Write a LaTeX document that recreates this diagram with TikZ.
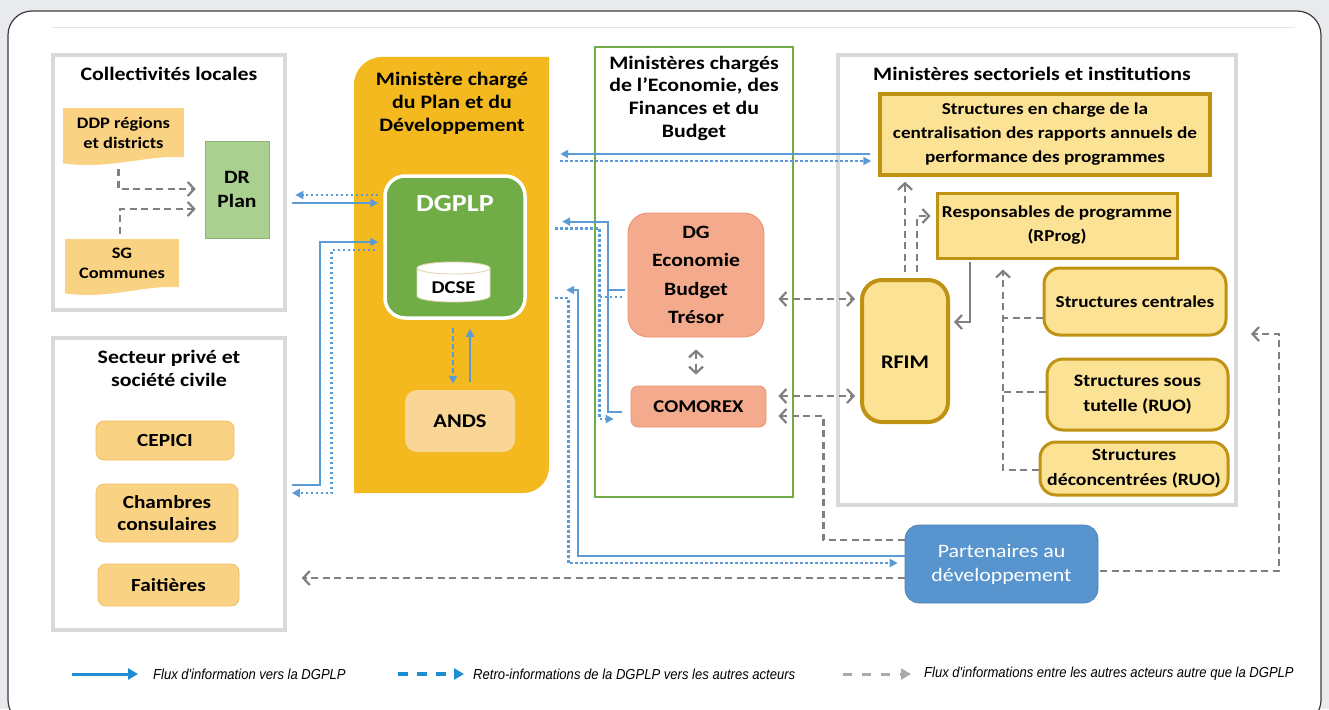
\documentclass[tikz,border=0pt]{standalone}
\usepackage{fontspec}
\setmainfont{Carlito}[FakeStretch=1.15]
\newfontfamily\legfont{Liberation Sans}[FakeStretch=0.9]
\usetikzlibrary{arrows.meta,calc}

\definecolor{bgray}{RGB}{232,234,237}
\definecolor{cardedge}{RGB}{60,60,60}
\definecolor{grpgray}{RGB}{217,217,217}
\definecolor{planyel}{RGB}{243,185,30}
\definecolor{dgreen}{RGB}{112,173,71}
\definecolor{drgreen}{RGB}{169,208,142}
\definecolor{orfill}{RGB}{250,210,132}
\definecolor{oredge}{RGB}{244,190,95}
\definecolor{andsfill}{RGB}{249,214,150}
\definecolor{salfill}{RGB}{243,170,141}
\definecolor{saledge}{RGB}{236,145,110}
\definecolor{yelfill}{RGB}{251,226,148}
\definecolor{goldedge}{RGB}{192,146,20}
\definecolor{partblue}{RGB}{88,149,206}
\definecolor{lblue}{RGB}{91,155,213}
\definecolor{dgray}{RGB}{128,128,128}
\definecolor{legblue}{RGB}{30,140,210}
\definecolor{leggray}{RGB}{170,170,170}
\definecolor{cyledge}{RGB}{225,215,180}

\newcommand\myfs[2]{\fontsize{#1}{#2}\selectfont}

\begin{document}
\begin{tikzpicture}[x=1pt,y=-1pt,
  grpbox/.style={draw=grpgray, line width=3.5pt, fill=white, inner sep=0},
  ttl/.style={font=\myfs{19}{23}\bfseries, align=center, inner sep=0},
  docbox/.style={fill=orfill, inner sep=0, align=center, font=\myfs{16}{20}\bfseries},
  orbox/.style={fill=orfill, draw=oredge, line width=0.8pt, rounded corners=8, inner sep=0, align=center, font=\myfs{18.5}{22}\bfseries},
  salbox/.style={fill=salfill, draw=saledge, line width=0.8pt, inner sep=0, align=center, font=\myfs{18.8}{28.3}\bfseries},
  yelbox/.style={fill=yelfill, draw=goldedge, line width=3pt, inner sep=0, align=center, font=\myfs{16.7}{24}\bfseries},
  flowline/.style={draw=lblue, line width=1.8pt},
  flow/.style={flowline, -{Triangle[length=8pt,width=8pt]}},
  retroline/.style={draw=lblue, line width=2.6pt, dash pattern=on 2.6pt off 2.4pt},
  retro/.style={retroline, -{Triangle[length=8pt,width=8pt]}},
  retrodash/.style={draw=lblue, line width=2.2pt, dash pattern=on 5pt off 3pt, -{Triangle[length=8pt,width=8pt]}},
  otherline/.style={draw=dgray, line width=2.2pt, dash pattern=on 7pt off 4.5pt},
  barb/.tip={Straight Barb[length=6.5pt,width=14pt]},
  other/.style={otherline, -barb},
  otherboth/.style={otherline, barb-barb},
  othersolid/.style={draw=dgray, line width=2.2pt, -barb},
  legtxt/.style={font=\legfont\itshape\myfs{14.5}{16}, inner sep=0, anchor=west}
]
\useasboundingbox (0,0) rectangle (1329,709);
\clip (0,0) rectangle (1329,709);

% page and card
\fill[bgray] (0,0) rectangle (1329,709);
\draw[fill=white, draw=cardedge, line width=1.2pt, rounded corners=24] (8,11) rectangle (1321,724);
\draw[grpgray!70, line width=1pt] (53,28) -- (1295,28);

% ---------- group frames ----------
\node[grpbox, minimum width=232, minimum height=255] (colbox) at (169,182.5) {};
\node[ttl] (colt) at (169,74) {Collectivités locales};
\node[grpbox, minimum width=232, minimum height=292] (spbox) at (169,484) {};
\node[ttl] (spt) at (169,368.5) {Secteur privé et\\société civile};

% Ministère du Plan: rounded top-left and bottom-right corners
\fill[planyel] (354,493) -- (354,85) .. controls (354,69.5) and (366.5,57) .. (382,57)
  -- (549,57) -- (549,467) .. controls (549,481.5) and (537.5,493) .. (523,493) -- cycle;
\node[minimum width=195, minimum height=436, inner sep=0] (plan) at (451.5,275) {};
\node[ttl] (plant) at (452,103) {Ministère chargé\\du Plan et du\\Développement};

\node[draw=dgreen, line width=1.3pt, minimum width=198, minimum height=450, inner sep=0] (mefbox) at (694,272) {};
\node[ttl, font=\myfs{19}{22.7}\bfseries] (meft) at (694,98) {Ministères chargés\\de l’Economie, des\\Finances et du\\Budget};

\node[grpbox, line width=4pt, minimum width=398, minimum height=450] (msbox) at (1037,280) {};
\node[ttl] (mst) at (1032,74) {Ministères sectoriels et institutions};

% ---------- Collectivités locales ----------
\node[docbox, minimum width=121, minimum height=49] (ddp) at (123.5,132.5) {DDP régions\\et districts};
\fill[orfill] (ddp.south east) .. controls ($(ddp.south east)+(-34,-3)$) and ($(ddp.south west)+(45,13)$) .. ($(ddp.south west)+(0,6)$) -- (ddp.south west) -- cycle;
\node[docbox, minimum width=114, minimum height=48] (sg) at (122,263) {SG\\Communes};
\fill[orfill] (sg.south east) .. controls ($(sg.south east)+(-32,-3)$) and ($(sg.south west)+(42,13)$) .. ($(sg.south west)+(0,6)$) -- (sg.south west) -- cycle;
\node[fill=drgreen, draw=drgreen!85!black, line width=0.6pt, minimum width=64, minimum height=97, inner sep=0, align=center, font=\myfs{18.8}{24}\bfseries] (drplan) at (237,189.5) {DR\\Plan};

% ---------- Secteur privé ----------
\node[orbox, minimum width=138, minimum height=39] (cepici) at (165,440.5) {CEPICI};
\node[orbox, minimum width=142, minimum height=58] (chambres) at (167,513) {Chambres\\consulaires};
\node[orbox, minimum width=141, minimum height=42] (faitieres) at (168.5,585) {Faitières};

% ---------- Ministère du Plan ----------
\node[fill=dgreen, draw=white, line width=3.5pt, rounded corners=20, minimum width=140, minimum height=142, inner sep=0] (dgplp) at (455,247) {};
\node[text=white, font=\myfs{24.5}{28}\bfseries, inner sep=0] (dgplpt) at (455,204) {DGPLP};
% DCSE database cylinder
\node[minimum width=73, minimum height=40, inner sep=0] (dcse) at (453.5,282) {};
\filldraw[fill=white, draw=cyledge, line width=0.9pt] (417,268) -- (417,296)
  arc[start angle=180, end angle=0, x radius=36.5, y radius=6] -- (490,268);
\filldraw[fill=white, draw=cyledge, line width=0.9pt] (453.5,268) ellipse [x radius=36.5, y radius=6];
\node[font=\myfs{18}{20}\bfseries, inner sep=0] (dcset) at (453.5,288) {DCSE};
\node[fill=andsfill, rounded corners=12, minimum width=110, minimum height=62, inner sep=0, font=\myfs{19.5}{22}\bfseries] (ands) at (460,421) {ANDS};

% ---------- Economie, Finances, Budget ----------
\node[salbox, rounded corners=20, minimum width=136, minimum height=124] (dg) at (696,275) {DG\\Economie\\Budget\\Trésor};
\node[salbox, font=\myfs{18}{22}\bfseries, rounded corners=7, minimum width=135, minimum height=41] (comorex) at (698.5,406.5) {COMOREX};

% ---------- Ministères sectoriels ----------
\node[yelbox, line width=3.5pt, minimum width=330, minimum height=81] (sch) at (1045,134.5) {Structures en charge de la\\centralisation des rapports annuels de\\performance des programmes};
\node[yelbox, minimum width=240, minimum height=65] (rprog) at (1057,225.5) {Responsables de programme\\(RProg)};
\node[yelbox, line width=4pt, rounded corners=20, minimum width=86, minimum height=142] (rfim) at (905,351) {};
\node[font=\myfs{19.3}{22}\bfseries, inner sep=0] (rfimt) at (905,362) {RFIM};
\node[yelbox, rounded corners=16, minimum width=182, minimum height=67] (scen) at (1135,301.5) {Structures centrales};
\node[yelbox, rounded corners=16, minimum width=181, minimum height=71, font=\myfs{17.4}{25}\bfseries] (stut) at (1137.5,394.5) {Structures sous\\tutelle (RUO)};
\node[yelbox, rounded corners=16, minimum width=188, minimum height=53, font=\myfs{17.2}{25}\bfseries] (sdec) at (1134,468.5) {Structures\\déconcentrées (RUO)};

% ---------- Partenaires ----------
\node[fill=partblue, draw=partblue!85!black, line width=0.6pt, rounded corners=14, minimum width=193, minimum height=78, inner sep=0, align=center, text=white, font=\myfs{19}{24}] (part) at (1001.5,564) {Partenaires au\\développement};

% ---------- information flows ----------
\draw[other] ($(ddp.south)+(-5,12)$) |- ($(drplan.west)+(-9,-0.5)$);
\draw[other] ($(sg.north)+(-2,-5)$) |- ($(drplan.west)+(-9,19.5)$);

\draw[flow] ($(drplan.east)+(23,13.5)$) -- ($(dgplp.west)+(-5,-44)$);
\draw[retro] ($(dgplp.west)+(-5,-52)$) -- ($(drplan.east)+(26,5.5)$);

\draw[flow] ($(spbox.east)+(5,1)$) -| ($(dgplp.west)+(-63,-5)$) -- ($(dgplp.west)+(-5,-5)$);
\draw[retro] ($(dgplp.west)+(-8,3)$) -| ($(spbox.east)+(45,9)$) -- ($(spbox.east)+(5,9)$);

\draw[retrodash] ($(dgplp.south)+(-2,8)$) -- ($(ands.north)+(-7,-6)$);
\draw[flow] ($(ands.north)+(10,-8)$) -- ($(dgplp.south)+(15,9)$);

\draw[flow] ($(sch.west)+(-8,19.5)$) -- ($(plan.east |- sch.west)+(11,19.5)$);
\draw[retro] ($(plan.east |- sch.west)+(11,26.5)$) -- ($(sch.west)+(-7,26.5)$);

\draw[flow] ($(comorex.west)+(-9,5.5)$) -| ($(plan.east |- dg.north)+(59,9)$) -- ($(plan.east |- dg.north)+(13,9)$);
\draw[flowline] ($(dg.west)+(-3,15)$) -- ($(dg.west)+(-20,15)$);
\draw[retro] ($(plan.east |- dg.north)+(6,16)$) -| ($(comorex.west)+(-31,12.5)$) -- ($(comorex.west)+(-17,12.5)$);
\draw[retroline] ($(dg.west)+(-28,22)$) -- ($(dg.west)+(-4,22)$);

\draw[flow] ($(part.west)+(0,-8)$) -| ($(plan.east |- dg.west)+(29,15)$) -- ($(plan.east |- dg.west)+(17,15)$);
\draw[retro] ($(plan.east |- dg.west)+(6,23)$) -- ($(plan.east |- dg.west)+(19,23)$) |- ($(part.west)+(-7,-1)$);

\draw[otherboth] ($(dg.south)+(0,12)$) -- ($(dg.south |- comorex.north)+(0,-11)$);
\draw[otherboth] ($(dg.east)+(14,24)$) -- ($(rfim.west |- dg.east)+(-5,24)$);
\draw[otherboth] ($(comorex.east)+(12,-10.5)$) -- ($(rfim.west |- comorex.east)+(-5,-10.5)$);
\draw[other] ($(part.west)+(0,-24)$) -| ($(comorex.east)+(57,9.5)$) -- ($(comorex.east)+(12,9.5)$);
\draw[other] ($(part.west)+(0,14)$) -- ($(spbox.east |- part.west)+(15,14)$);
\draw[other] ($(part.east)+(2,7)$) -| ($(msbox.east)+(41,54)$) -- ($(msbox.east)+(13,54)$);

\draw[other] ($(rfim.north)+(0,-6)$) -- ($(rfim.north |- sch.south)+(0,5)$);
\draw[other] ($(rfim.north)+(12,-6)$) |- ($(rprog.west)+(-5,-9.5)$);
\draw[othersolid] ($(rprog.south)+(-87,2)$) |- ($(rfim.east)+(4,-29)$);
\draw[other] ($(sdec.west)+(0,1.5)$) -| ($(rprog.south)+(-54,10)$);
\draw[otherline] ($(scen.west)+(0,16.5)$) -- ++(-41,0);
\draw[otherline] ($(stut.west)+(0,-2.5)$) -- ++(-44,0);

% ---------- legend ----------
\coordinate (la1) at (72,674);
\coordinate (la2) at (138,674);
\draw[legblue, line width=3pt, -{Triangle[length=10pt,width=11pt]}] (la1) -- (la2);
\node[legtxt] (lt1) at (153,674) {Flux d'information vers la DGPLP};
\coordinate (lb1) at (398,674);
\coordinate (lb2) at (464,674);
\draw[legblue, line width=3.5pt, dash pattern=on 10pt off 9pt, -{Triangle[length=10pt,width=11pt]}] (lb1) -- (lb2);
\node[legtxt] (lt2) at (473,674) {Retro-informations de la DGPLP vers les autres acteurs};
\coordinate (lc1) at (843,674);
\coordinate (lc2) at (911,674);
\draw[leggray, line width=3pt, dash pattern=on 9pt off 10pt, -{Triangle[length=10pt,width=11pt]}] (lc1) -- (lc2);
\node[legtxt] (lt3) at (924,674) {Flux d'informations entre les autres acteurs autre que la DGPLP};
\end{tikzpicture}
\end{document}
